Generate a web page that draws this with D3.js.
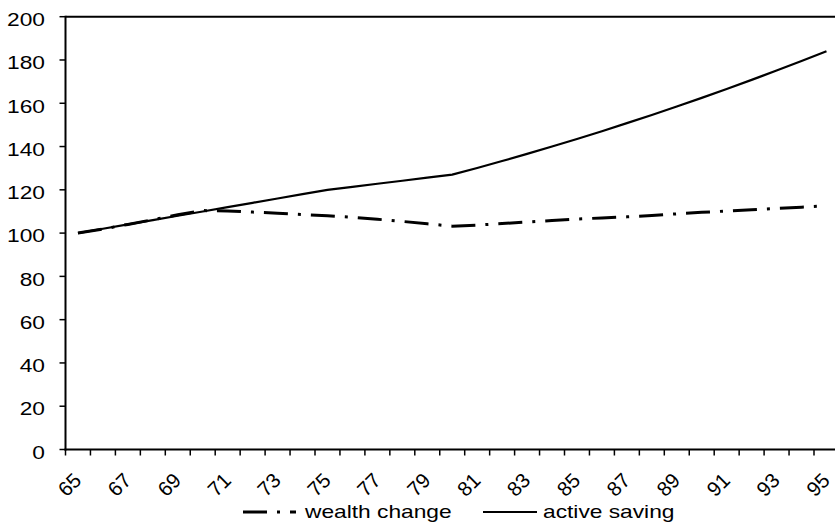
<!DOCTYPE html>
<html>
<head>
<meta charset="utf-8">
<script src="https://cdn.jsdelivr.net/npm/d3@7"></script>
<style>
  html, body { margin: 0; padding: 0; background: #fff; }
  svg { display: block; }
  text { font-family: "Liberation Sans", Arial, sans-serif; fill: #000; }
</style>
</head>
<body>
<svg id="chart" width="835" height="527"></svg>
<script>
// ── data ────────────────────────────────────────────
const years = [65, 66, 67, 68, 69, 70, 71, 72, 73, 74, 75, 76, 77, 78, 79, 80,
               81, 82, 83, 84, 85, 86, 87, 88, 89, 90, 91, 92, 93, 94, 95];
const yearLabels = [65, 67, 69, 71, 73, 75, 77, 79, 81, 83, 85, 87, 89, 91, 93, 95];
const wealthChange = [100, 101.9, 104, 106.2, 108.5, 110.4, 110.2, 109.7, 109.2, 108.6,
                      108, 107.3, 106.4, 105.4, 104.3, 103.2, 103.7, 104.4, 105.1, 105.8,
                      106.5, 107, 107.5, 108.1, 108.9, 109.6, 110.2, 110.8, 111.4, 112, 112.6];
const activeSaving = [100, 102, 104, 106, 108, 110, 112, 114, 116, 118,
                      120, 121.4, 122.8, 124.2, 125.6, 127, 130.1, 133.3, 136.6, 140,
                      143.5, 147.1, 150.8, 154.6, 158.5, 162.5, 166.6, 170.8, 175.1, 179.5, 184];
const yTicks = [0, 20, 40, 60, 80, 100, 120, 140, 160, 180, 200];

// ── layout ──────────────────────────────────────────
const SX = 1.23;           // picture is stretched horizontally
const plotLeft = 65.5, plotTop = 16.7, plotBottom = 449.5, step = 24.95;

const svg = d3.select('#chart');
const x = d3.scaleBand().domain(years).range([plotLeft, plotLeft + years.length * step]).padding(0);
const y = d3.scaleLinear().domain([0, 200]).range([plotBottom, plotTop]);
const cx = d => x(d) + x.bandwidth() / 2;

// top border
svg.append('line')
  .attr('x1', plotLeft).attr('x2', 835).attr('y1', plotTop).attr('y2', plotTop)
  .attr('stroke', '#000').attr('stroke-width', 2);

// y axis
svg.append('line')
  .attr('x1', plotLeft).attr('x2', plotLeft).attr('y1', plotTop - 1).attr('y2', plotBottom + 1)
  .attr('stroke', '#000').attr('stroke-width', 2);
svg.selectAll('.ytick').data(yTicks).enter().append('line')
  .attr('x1', plotLeft - 6).attr('x2', plotLeft)
  .attr('y1', d => y(d)).attr('y2', d => y(d))
  .attr('stroke', '#000').attr('stroke-width', 1.5);
svg.selectAll('.ylab').data(yTicks).enter().append('text')
  .attr('text-anchor', 'end')
  .attr('dy', '0.42em')
  .attr('font-size', 18.5)
  .attr('transform', d => `translate(45,${y(d) + 1.5}) scale(${SX},1)`)
  .text(d => d);

// x axis
svg.append('line')
  .attr('x1', plotLeft - 1).attr('x2', 835).attr('y1', plotBottom).attr('y2', plotBottom)
  .attr('stroke', '#000').attr('stroke-width', 2);
const bounds = years.map(d => x(d)).concat([x(years[years.length - 1]) + x.bandwidth()]);
svg.selectAll('.xtick').data(bounds).enter().append('line')
  .attr('x1', d => d).attr('x2', d => d)
  .attr('y1', plotBottom).attr('y2', plotBottom + 6)
  .attr('stroke', '#000').attr('stroke-width', 1.5);
svg.selectAll('.xlab').data(yearLabels).enter().append('text')
  .attr('text-anchor', 'end')
  .attr('dy', '0.35em')
  .attr('font-size', 20.5)
  .attr('transform', d => `translate(${cx(d) - 0.5},476.5) rotate(-45)`)
  .text(d => d);

// lines
const line = vals => d3.line().x((d, i) => cx(years[i])).y(d => y(d))(vals);
svg.append('path')
  .attr('d', line(activeSaving))
  .attr('fill', 'none').attr('stroke', '#000').attr('stroke-width', 2.2);
svg.append('path')
  .attr('d', line(wealthChange))
  .attr('fill', 'none').attr('stroke', '#000').attr('stroke-width', 3)
  .attr('stroke-dasharray', '24,10,3,10');

// legend
const leg = svg.append('g');
leg.append('line')
  .attr('x1', 243).attr('x2', 296).attr('y1', 512).attr('y2', 512)
  .attr('stroke', '#000').attr('stroke-width', 3)
  .attr('stroke-dasharray', '24,10,3,10');
leg.append('text')
  .attr('font-size', 18.5)
  .attr('transform', `translate(305,518) scale(${SX},1)`)
  .text('wealth change');
leg.append('line')
  .attr('x1', 483).attr('x2', 537).attr('y1', 512).attr('y2', 512)
  .attr('stroke', '#000').attr('stroke-width', 2);
leg.append('text')
  .attr('font-size', 18.5)
  .attr('transform', `translate(543,518) scale(${SX},1)`)
  .text('active saving');
</script>
</body>
</html>
